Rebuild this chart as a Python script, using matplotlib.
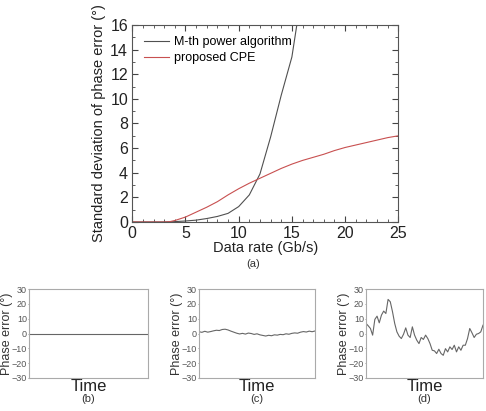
import numpy as np
import matplotlib
matplotlib.use("Agg")
import matplotlib.pyplot as plt
from matplotlib.ticker import MultipleLocator

plt.rcParams['font.family'] = ['Liberation Sans', 'DejaVu Sans']

# (a) standard deviation of phase error vs data rate
rate_mth = [0, 1, 2, 3, 4, 5, 6, 7, 8, 9, 10, 11, 12, 13, 14, 15, 16]
std_mth = [0, 0, 0, 0, 0.03, 0.08, 0.15, 0.28, 0.45, 0.7, 1.25, 2.2, 3.9,
           6.9, 10.3, 13.4, 19.0]
rate_cpe = [0, 1, 2, 3, 3.5, 4, 5, 6, 7, 8, 9, 10, 11, 12, 13, 14, 15, 16,
            17, 18, 19, 20, 21, 22, 23, 24, 25]
std_cpe = [0, 0, 0, 0, 0.02, 0.12, 0.4, 0.8, 1.2, 1.65, 2.2, 2.7, 3.15, 3.55,
           3.95, 4.35, 4.7, 5.0, 5.25, 5.5, 5.8, 6.05, 6.25, 6.45, 6.65, 6.85, 7.0]

# (b)-(d) phase error traces over time
phase_b = [0, 0]
phase_c = [1.2, 0.8, 1.5, 0.9, 1.3, 1.8, 2.2, 2.0, 2.7, 2.9, 2.4, 1.6, 0.9,
           0.2, -0.3, 0.1, -0.4, 0.3, 0.0, -0.6, -0.2, -0.9, -1.3, -1.7, -1.2,
           -1.5, -0.9, -1.1, -0.6, -0.8, -0.2, -0.5, 0.1, 0.4, 0.2, 0.9, 1.3,
           1.0, 1.6, 1.2, 1.7]
phase_d = [6.8, 5.2, 3.4, -1.1, 9.5, 11.7, 7.2, 12.4, 15.1, 13.5, 23.0, 21.4,
           14.7, 6.8, 1.1, -1.8, -3.4, -0.5, 3.8, -1.1, -2.7, 4.5, -1.1, -4.5,
           -6.8, -2.7, -4.0, -1.1, -3.4, -6.8, -11.3, -11.7, -13.5, -10.6,
           -13.5, -14.7, -10.2, -12.4, -9.0, -10.8, -7.9, -12.4, -9.0, -11.3,
           -7.9, -7.9, -3.4, 3.4, 0.5, -2.7, -0.5, 0.0, 1.1, 5.6]

fig = plt.figure(figsize=(4.86, 4.11), dpi=100)

ax = fig.add_axes([0.2722, 0.4599, 0.5473, 0.4793])
ax.plot(rate_mth, std_mth, color='#505050', lw=0.8, label='M-th power algorithm')
ax.plot(rate_cpe, std_cpe, color='#c85050', lw=0.8, label='proposed CPE')
ax.set_xlim(0, 25)
ax.set_ylim(0, 16)
ax.xaxis.set_major_locator(MultipleLocator(5))
ax.xaxis.set_minor_locator(MultipleLocator(1))
ax.yaxis.set_major_locator(MultipleLocator(2))
ax.yaxis.set_minor_locator(MultipleLocator(1))
ax.tick_params(which='both', direction='in', top=True, right=True,
               colors='#444444', labelcolor='#222222', labelsize=11.5)
ax.tick_params(axis='x', pad=3)
ax.tick_params(axis='y', pad=3)
ax.tick_params(which='major', length=4)
ax.tick_params(which='minor', length=2)
for s in ax.spines.values():
    s.set_color('#555555')
ax.set_xlabel('Data rate (Gb/s)', fontsize=10.5, labelpad=0, color='#222222')
ax.set_ylabel('Standard deviation of phase error (°)', fontsize=10.5,
              labelpad=3, color='#222222')
ax.legend(loc='upper left', frameon=False, fontsize=9, handlelength=2.0,
          handletextpad=0.4, labelspacing=0.3, borderaxespad=0.5,
          borderpad=0.4)
fig.text(0.5206, 0.357, '(a)', ha='center', va='center', fontsize=8,
         color='#333333')

panels = [([0.0597, 0.0803, 0.2449, 0.2165], phase_b, '(b)'),
          ([0.4095, 0.0803, 0.2387, 0.2165], phase_c, '(c)'),
          ([0.7531, 0.0803, 0.2407, 0.2165], phase_d, '(d)')]
for rect, vals, tag in panels:
    a = fig.add_axes(rect)
    a.plot(np.linspace(0, 1, len(vals)), vals, color='#666666', lw=0.8)
    a.set_xlim(0, 1)
    a.set_ylim(-30, 30)
    a.set_yticks([-30, -20, -10, 0, 10, 20, 30])
    a.set_xticks([])
    a.tick_params(axis='y', length=1, width=0.6, colors='#888888',
                  labelcolor='#555555', labelsize=6.5, pad=0.5)
    for s in a.spines.values():
        s.set_color('#aaaaaa')
    a.set_ylabel('Phase error (°)', fontsize=9, color='#333333')
    width_px = rect[2] * 486
    # label coords give the right-hand edge of the rotated label
    a.yaxis.set_label_coords(-16.0 / width_px, 0.5)
    a.set_xlabel('Time', fontsize=12, labelpad=1, color='#222222')
    cx = rect[0] + rect[2] / 2
    fig.text(cx, 0.029, tag, ha='center', va='center', fontsize=8,
             color='#333333')

fig.savefig('out.png', dpi=100)
